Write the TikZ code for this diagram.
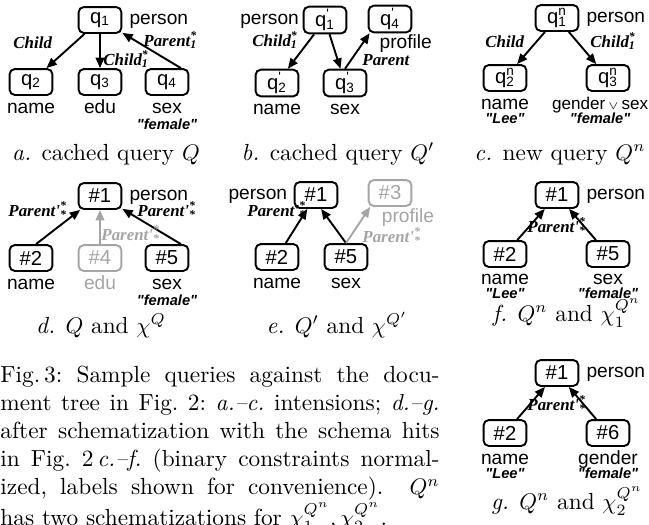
\documentclass[tikz,border=0pt]{standalone}
\usepackage{fontspec}
\newfontfamily\helv{Liberation Sans}[Ligatures=TeXOff]
\newfontfamily\tms{Liberation Serif}
\usepackage{tikz}
\usetikzlibrary{arrows.meta, positioning}
\definecolor{lightgr}{RGB}{165,165,165}
\newcommand\supsub[2]{\rlap{\textsuperscript{#1}}\textsubscript{#2}}
\tikzset{
  qbox/.style={rectangle, rounded corners=2.3pt, draw, line width=0.85pt, minimum width=19pt, minimum height=11.5pt, inner sep=1pt, font=\helv\fontsize{9}{10}\selectfont},
  attr/.style={inner sep=0.5pt, text height=6pt, text depth=1.8pt, font=\helv\fontsize{8.5}{9}\selectfont},
  val/.style={inner sep=0.3pt, text height=5pt, text depth=1.3pt, font=\helv\bfseries\itshape\fontsize{6.5}{7}\selectfont},
  elab/.style={inner sep=0pt, anchor=base west, font=\tms\bfseries\itshape\fontsize{7.5}{8}\selectfont},
  qarr/.style={line width=0.85pt, -{Triangle[length=4.6pt, width=3.8pt]}},
  faded/.style={lightgr},
  subcap/.style={inner sep=0pt, anchor=base, font=\fontsize{10.35}{12.4}\selectfont},
}
\begin{document}
\begin{tikzpicture}[x=0.444pt, y=-0.444pt]
\useasboundingbox (0,0) rectangle (649,524);

\node[qbox] (q1) at (100,20) {q\textsubscript{1}};
\node[qbox] (q2) at (31,82) {q\textsubscript{2}};
\node[qbox] (q3) at (100,82) {q\textsubscript{3}};
\node[qbox] (q4) at (167,82) {q\textsubscript{4}};
\node[attr, right=2.5pt of q1] (q1lab) {person};
\node[attr, below=1pt of q2] (q2lab) {name};
\node[attr, below=1pt of q3] (q3lab) {edu};
\node[attr, below=1pt of q4] (q4lab) {sex};
\node[val, below=-1pt of q4lab] (q4val) {"female"};
\draw[qarr] (q1) -- (q2); \draw[qarr] (q1) -- (q3); \draw[qarr] (q4.45) -- (q1.-30);
\node[elab] (qc) at (13,48) {Child};
\node[elab] (qc1) at (103,65) {Child\supsub{*}{1}};
\node[elab] (qp1) at (143,46) {Parent\supsub{*}{1}};
\node[subcap] (capa) at (106,160) {\textit{a.} cached query $Q$};

\node[qbox] (p1) at (325,20) {q\supsub{'}{1}};
\node[qbox] (p2) at (277,83) {q\supsub{'}{2}};
\node[qbox] (p3) at (345,83) {q\supsub{'}{3}};
\node[qbox] (p4) at (390,19) {q\supsub{'}{4}};
\node[attr, left=1pt of p1] (p1lab) {person};
\node[attr, below=1pt of p2] (p2lab) {name};
\node[attr, below=1pt of p3] (p3lab) {sex};
\node[attr, below=0pt of p4, xshift=7pt] (p4lab) {profile};
\draw[qarr] (p1) -- (p2); \draw[qarr] (p1) -- (p3); \draw[qarr] (p3.north) -- (p4.-145);
\node[elab] (pc1) at (252,46) {Child\supsub{*}{1}};
\node[elab] (pp) at (362,65) {Parent};
\node[subcap] (capb) at (338,160) {\textit{b.} cached query $Q'$};

\node[qbox] (n1) at (557,18) {q\supsub{n}{1}};
\node[qbox] (n2) at (505,78) {q\supsub{n}{2}};
\node[qbox] (n3) at (608,78) {q\supsub{n}{3}};
\node[attr, right=2.5pt of n1] (n1lab) {person};
\node[attr, below=1pt of n2] (n2lab) {name};
\node[attr, below=1pt of n3, xshift=-3.5pt, font=\helv\fontsize{7.6}{9}\selectfont] (n3lab) {gender{\tiny$\,\vee\,$}sex};
\node[val, below=-1.5pt of n2lab] (n2val) {"Lee"};
\node[val, below=-1.5pt of n3lab] (n3val) {"female"};
\draw[qarr] (n1) -- (n2); \draw[qarr] (n1) -- (n3);
\node[elab] (nc) at (485,47) {Child};
\node[elab] (nc1) at (590,47) {Child\supsub{*}{1}};
\node[subcap] (capc) at (560,160) {\textit{c.} new query $Q^n$};

\node[qbox] (d1) at (100,196) {\#1};
\node[qbox] (d2) at (31,258) {\#2};
\node[qbox, faded] (d4) at (100,258) {\#4};
\node[qbox] (d5) at (167,258) {\#5};
\node[attr, right=2.5pt of d1] (d1lab) {person};
\node[attr, below=1pt of d2] (d2lab) {name};
\node[attr, faded, below=1pt of d4] (d4lab) {edu};
\node[attr, below=1pt of d5] (d5lab) {sex};
\node[val, below=-1pt of d5lab] (d5val) {"female"};
\draw[qarr] (d2.70) -- (d1.-145); \draw[qarr, faded] (d4) -- (d1); \draw[qarr] (d5.45) -- (d1.-30);
\node[elab] (dp2) at (8,216) {Parent'\supsub{*}{*}};
\node[elab, faded] (dp4) at (101,240) {Parent'\supsub{*}{*}};
\node[elab] (dp5) at (137,216) {Parent'\supsub{*}{*}};
\node[subcap] (capd) at (101,333) {\textit{d.} $Q$ and $\chi^Q$};

\node[qbox] (e1) at (316,195) {\#1};
\node[qbox, faded] (e3) at (390,193) {\#3};
\node[qbox] (e2) at (277,257) {\#2};
\node[qbox] (e5) at (346,257) {\#5};
\node[attr, left=2.2pt of e1] (e1lab) {person};
\node[attr, faded, below=0pt of e3, xshift=8pt] (e3lab) {profile};
\node[attr, below=1pt of e2] (e2lab) {name};
\node[attr, below=1pt of e5] (e5lab) {sex};
\draw[qarr] (e2) -- (e1); \draw[qarr] (e5.north) -- (e1.-70); \draw[qarr, faded] (e5.north) -- (e3.-145);
\node[elab] (ep2) at (247,216) {Parent'\supsub{*}{*}};
\node[elab, faded] (ep3) at (362,242) {Parent'\supsub{*}{*}};
\node[subcap] (cape) at (337,333) {\textit{e.} $Q'$ and $\chi^{Q'}$};

\node[qbox] (f1) at (557,195) {\#1};
\node[qbox] (f2) at (505,254) {\#2};
\node[qbox] (f5) at (608,254) {\#5};
\node[attr, right=2.5pt of f1] (f1lab) {person};
\node[attr, below=0.6pt of f2] (f2lab) {name};
\node[attr, below=0.6pt of f5] (f5lab) {sex};
\node[val, below=-1.7pt of f2lab] (f2val) {"Lee"};
\node[val, below=-1.7pt of f5lab] (f5val) {"female"};
\draw[qarr] (f2) -- (f1); \draw[qarr] (f5) -- (f1);
\node[elab] (fp) at (527,232) {Parent'\supsub{*}{*}};
\node[subcap] (capf) at (567,321) {\textit{f.} $Q^n$ and $\chi_1^{Q^n}$};

\node[qbox] (g1) at (557,373) {\#1};
\node[qbox] (g2) at (505,433) {\#2};
\node[qbox] (g6) at (608,433) {\#6};
\node[attr, right=2.5pt of g1] (g1lab) {person};
\node[attr, below=1pt of g2] (g2lab) {name};
\node[attr, below=1pt of g6] (g6lab) {gender};
\node[val, below=-1.5pt of g2lab] (g2val) {"Lee"};
\node[val, below=-1.7pt of g6lab] (g6val) {"female"};
\draw[qarr] (g2) -- (g1); \draw[qarr] (g6) -- (g1);
\node[elab] (gp) at (527,410) {Parent'\supsub{*}{*}};
\node[subcap] (capg) at (567,509) {\textit{g.} $Q^n$ and $\chi_2^{Q^n}$};

\node[anchor=north west, inner sep=0pt, text width=195pt, align=justify, font=\fontsize{10.35}{12.4}\selectfont\frenchspacing] (caption) at (0,366)
  {Fig.\,3: Sample queries against the docu-\linebreak ment tree in Fig.~2: \textit{a.--c.} intensions; \textit{d.--g.}\linebreak after schematization with the schema hits\linebreak in Fig.~2\,\textit{c.--f.} (binary constraints normal-\linebreak ized, labels shown for convenience). \ $Q^n$\linebreak has two schematizations for $\chi_1^{Q^n}, \chi_2^{Q^n}$.};
\end{tikzpicture}
\end{document}
